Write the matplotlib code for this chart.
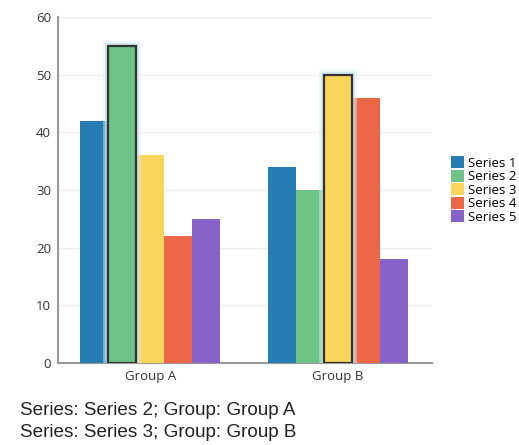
import numpy as np
import matplotlib.pyplot as plt
import matplotlib.patheffects as pe
from matplotlib.patches import Patch

# data
groups = ["Group A", "Group B"]
series = ["Series 1", "Series 2", "Series 3", "Series 4", "Series 5"]
s1 = [42, 34]
s2 = [55, 30]
s3 = [36, 50]
s4 = [22, 46]
s5 = [25, 18]
colors = ["#267db3", "#6dc486", "#fad55c", "#ed6647", "#8561c8"]
selected = [("Series 2", "Group A"), ("Series 3", "Group B")]

values = [s1, s2, s3, s4, s5]

fig = plt.figure(figsize=(5.19, 4.45), dpi=100)
ax = fig.add_axes([0.112, 0.184, 0.72, 0.778])

x = np.arange(len(groups))
width = 0.149
for i, (name, vals) in enumerate(zip(series, values)):
    pos = x + (i - 2) * width
    bars = ax.bar(pos, vals, width, color=colors[i], zorder=3)
    for j, b in enumerate(bars):
        if (name, groups[j]) in selected:
            b.set_edgecolor("#333333")
            b.set_linewidth(1.6)
            b.set_path_effects([pe.Stroke(linewidth=7, foreground="#d6ecf2", alpha=0.5),
                                pe.Stroke(linewidth=4, foreground="#c2e0ea", alpha=0.6),
                                pe.Normal()])
            b.set_zorder(4)

ax.set_xlim(-0.49, 1.5)
ax.set_ylim(0, 60)
ax.set_yticks(range(0, 61, 10))
ax.set_xticks(x)
ax.set_xticklabels(groups)
ax.grid(axis="y", color="#eeeeee", linewidth=1, zorder=0)
for s in ["top", "right"]:
    ax.spines[s].set_visible(False)
ax.spines["left"].set_color("#999999")
ax.spines["bottom"].set_color("#999999")
ax.spines["left"].set_linewidth(1.5)
ax.spines["bottom"].set_linewidth(1.5)
ax.tick_params(axis="both", length=0, labelsize=9.5, colors="#333333", pad=5)
for lbl in ax.get_xticklabels() + ax.get_yticklabels():
    lbl.set_fontfamily("Open Sans")

handles = [Patch(facecolor=c, label=n) for c, n in zip(colors, series)]
ax.legend(handles=handles, loc="center left", bbox_to_anchor=(1.02, 0.5), frameon=False,
          prop={"family": "Open Sans", "size": 9.5}, handlelength=1.0,
          handleheight=1.0, handletextpad=0.3, labelspacing=0.0)

fig.text(0.038, 0.058, "Series: Series 2; Group: Group A", fontsize=13.6,
         family="Liberation Sans", color="#222222", va="bottom")
fig.text(0.038, 0.008, "Series: Series 3; Group: Group B", fontsize=13.6,
         family="Liberation Sans", color="#222222", va="bottom")

fig.savefig("out.png", dpi=100)
